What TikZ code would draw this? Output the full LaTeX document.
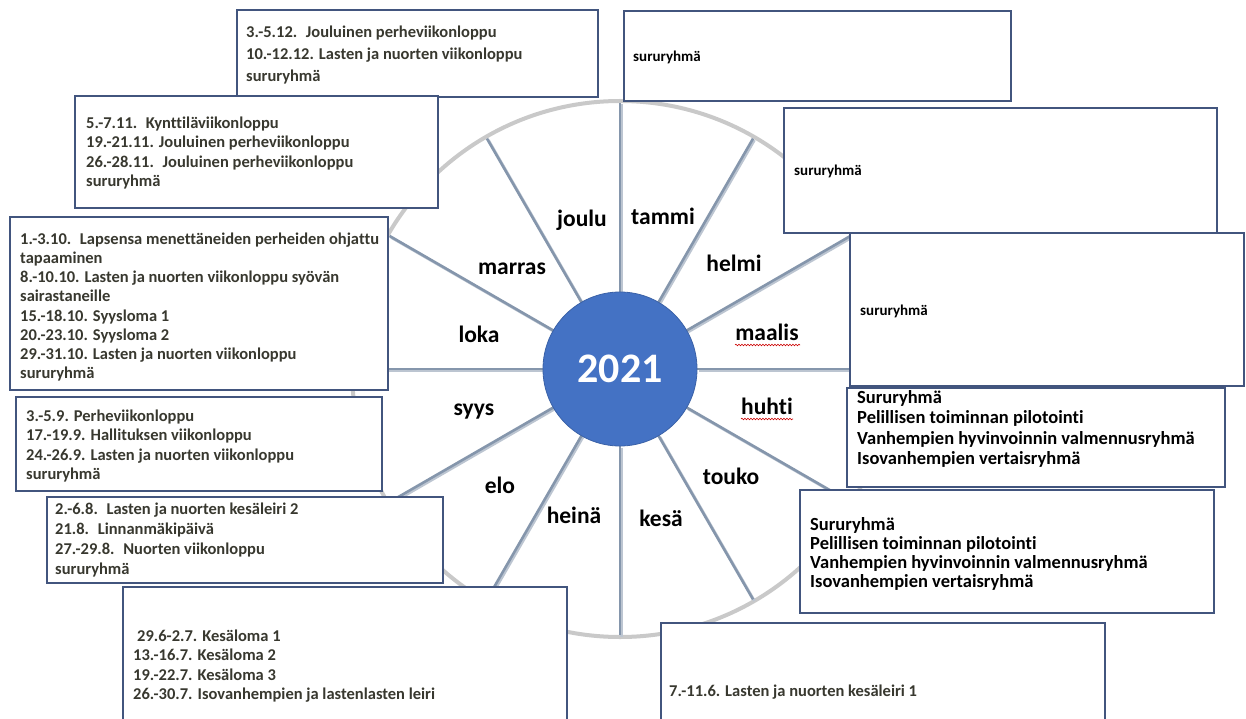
\documentclass[tikz,border=0pt]{standalone}
\usepackage{fontspec}
\setmainfont{Carlito}[Ligatures=NoCommon]
\usetikzlibrary{decorations.pathmorphing,calc}
\definecolor{boxline}{HTML}{42557E}
\definecolor{ringc}{HTML}{C9C9C9}
\definecolor{spoke}{HTML}{8596AC}
\definecolor{hubc}{HTML}{4472C4}
\definecolor{ltext}{HTML}{38382F}
\tikzset{
 box/.style={draw=boxline, line width=1.4pt, fill=white},
 ltxt/.style={anchor=west, inner sep=0pt, align=left, text=ltext, font=\fontsize{16.5}{19.5}\selectfont\bfseries},
 rtxt/.style={anchor=west, inner sep=0pt, align=left, text=black, font=\fontsize{15}{19.5}\selectfont\bfseries},
 month/.style={font=\fontsize{23.5}{26}\selectfont\bfseries, text=black, inner sep=0pt},
 spk/.style={draw=spoke, line width=2.6pt},
 squig/.style={draw=red!80!black, line width=0.6pt, decorate, decoration={snake, amplitude=0.8pt, segment length=3pt}}
}
\begin{document}
\begin{tikzpicture}[x=1pt,y=-1pt]
\useasboundingbox (0,0) rectangle (1246,719);
\fill[white] (0,0) rectangle (1246,719);
% wheel
\coordinate (c) at (620,369);
\draw[ringc, line width=4pt] (c) circle[radius=268];
\foreach \a in {0,30,...,330} {
  \draw[spoke!55, line width=2.6pt] ($(c)+(\a:77)+(1.5,1.5)$) -- ($(c)+(\a:266)+(1.5,1.5)$);
  \draw[spk] ($(c)+(\a:77)$) -- ($(c)+(\a:266)$);
}
\node[circle, fill=hubc, draw=hubc!85!black, line width=0.8pt, minimum size=154pt, inner sep=0pt, text=white, font=\fontsize{42}{44}\selectfont\bfseries] (hub) at (c) {2021};
% months
\node[month] (m1) at (663,216) {tammi};
\node[month] (m2) at (734,263) {helmi};
\node[month] (m3) at (767,332) {maalis};
\node[month] (m4) at (767,406) {huhti};
\node[month] (m5) at (731,476) {touko};
\node[month] (m6) at (661,518) {kesä};
\node[month] (m7) at (574,515) {heinä};
\node[month] (m8) at (500,485) {elo};
\node[month] (m9) at (474,412) {syys};
\node[month] (m10) at (479,334) {loka};
\node[month] (m11) at (512,269) {marras};
\node[month] (m12) at (582,220) {joulu};
\draw[squig] (735,345) -- (800,345);
\draw[squig] (741,419) -- (793,419);
% boxes left
\draw[box] (237,10) rectangle (598,97);
\node[ltxt, font=\fontsize{16.5}{22}\selectfont\bfseries] (tdec) at (246,55) {3.-5.12.~ Jouluinen perheviikonloppu\\10.-12.12. Lasten ja nuorten viikonloppu\\sururyhmä};
\draw[box] (75,96) rectangle (438,208);
\node[ltxt] (tnov) at (86,153) {5.-7.11.~ Kynttiläviikonloppu\\19.-21.11. Jouluinen perheviikonloppu\\26.-28.11.~ Jouluinen perheviikonloppu\\sururyhmä};
\draw[box] (10,217) rectangle (388,390);
\node[ltxt, font=\fontsize{16.5}{19.2}\selectfont\bfseries] (toct) at (20,307) {1.-3.10.~ Lapsensa menettäneiden perheiden ohjattu\\tapaaminen\\8.-10.10. Lasten ja nuorten viikonloppu syövän\\sairastaneille\\15.-18.10. Syysloma 1\\20.-23.10. Syysloma 2\\29.-31.10. Lasten ja nuorten viikonloppu\\sururyhmä};
\draw[box] (16,397) rectangle (382,491);
\node[ltxt] (tsep) at (26,446) {3.-5.9. Perheviikonloppu\\17.-19.9. Hallituksen viikonloppu\\24.-26.9. Lasten ja nuorten viikonloppu\\sururyhmä};
\draw[box] (47,497) rectangle (443,583);
\node[ltxt, font=\fontsize{16.5}{20.3}\selectfont\bfseries] (taug) at (55,540) {2.-6.8.~ Lasten ja nuorten kesäleiri 2\\21.8.~ Linnanmäkipäivä\\27.-29.8.~ Nuorten viikonloppu\\sururyhmä};
\draw[box] (123,587) rectangle (567,730);
\node[ltxt] (tjul) at (133,666) {\hspace{4pt}29.6-2.7. Kesäloma 1\\13.-16.7. Kesäloma 2\\19.-22.7. Kesäloma 3\\26.-30.7. Isovanhempien ja lastenlasten leiri};
\draw[box] (661,623) rectangle (1105,730);
\node[ltxt] (tjun) at (669,692) {7.-11.6. Lasten ja nuorten kesäleiri 1};
% boxes right
\draw[box] (624,11) rectangle (1011,101);
\node[rtxt] (tjan) at (633,57) {sururyhmä};
\draw[box] (784,108) rectangle (1217,233);
\node[rtxt] (tfeb) at (794,171) {sururyhmä};
\draw[box] (850,233) rectangle (1244,386);
\node[rtxt] (tmar) at (860,311) {sururyhmä};
\draw[box] (847,388) rectangle (1225,487);
\node[rtxt, font=\fontsize{18.5}{20.5}\selectfont\bfseries] (tapr) at (857,429) {Sururyhmä\\Pelillisen toiminnan pilotointi\\Vanhempien hyvinvoinnin valmennusryhmä\\Isovanhempien vertaisryhmä};
\draw[box] (800,490) rectangle (1214,613);
\node[rtxt, font=\fontsize{18.5}{19}\selectfont\bfseries] (tmay) at (810,554) {Sururyhmä\\Pelillisen toiminnan pilotointi\\Vanhempien hyvinvoinnin valmennusryhmä\\Isovanhempien vertaisryhmä};
\end{tikzpicture}
\end{document}
